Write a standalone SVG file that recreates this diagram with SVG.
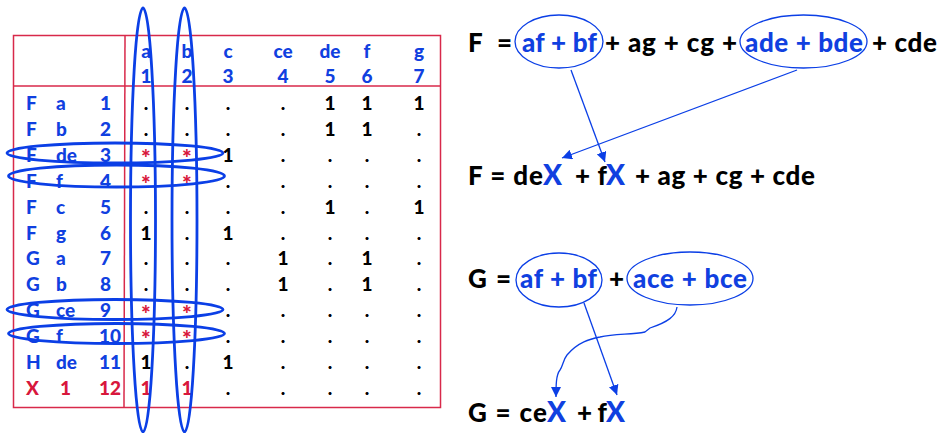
<svg xmlns="http://www.w3.org/2000/svg" width="943" height="433" viewBox="0 0 943 433">
<style>
text{font-family:Lato,"Open Sans","Liberation Sans",sans-serif;font-weight:900}
.t{font-size:19px}
.s{font-size:23px}
.b{fill:#1040e0}
.r{fill:#d8173c}
.k{fill:#000}
.c{text-anchor:middle}
.eq{font-size:26px}
.X{font-size:28px;fill:#1040e0}
.grid{fill:none;stroke:#d8294a;stroke-width:1.5}
.ring{fill:none;stroke:#0b3fe6;stroke-width:2.8}
.ov{fill:none;stroke:#0b3fe6;stroke-width:1.3}
.con{fill:none;stroke:#0b3fe6;stroke-width:1.3}
</style>
<defs>
<marker id="ah" viewBox="0 0 10 10" refX="10" refY="5" markerWidth="10" markerHeight="10" markerUnits="userSpaceOnUse" orient="auto">
<path d="M0,0 L10,5 L0,10 z" fill="#0b3fe6"/>
</marker>
</defs>
<g id="table">
<rect class="grid" x="13.5" y="35.5" width="427" height="372"/>
<line class="grid" x1="125" y1="35.5" x2="124" y2="407.5"/>
<line class="grid" x1="13.5" y1="86" x2="440.5" y2="86"/>
<g class="t b c">
<text x="146" y="58">a</text><text x="187" y="58">b</text><text x="228" y="58">c</text><text x="283" y="58">ce</text><text x="330" y="58">de</text><text x="367" y="58">f</text><text x="419" y="58">g</text>
<text x="146" y="83">1</text><text x="187" y="83">2</text><text x="228" y="83">3</text><text x="283" y="83">4</text><text x="330" y="83">5</text><text x="367" y="83">6</text><text x="419" y="83">7</text>
</g>
<g class="t b">
<text x="26" y="110">F</text><text x="56" y="110">a</text><text x="100" y="110">1</text>
<text x="26" y="135.9">F</text><text x="56" y="135.9">b</text><text x="100" y="135.9">2</text>
<text x="26" y="161.8">F</text><text x="56" y="161.8">de</text><text x="100" y="161.8">3</text>
<text x="26" y="187.7">F</text><text x="56" y="187.7">f</text><text x="100" y="187.7">4</text>
<text x="26" y="213.6">F</text><text x="56" y="213.6">c</text><text x="100" y="213.6">5</text>
<text x="26" y="239.5">F</text><text x="56" y="239.5">g</text><text x="100" y="239.5">6</text>
<text x="26" y="265.4">G</text><text x="56" y="265.4">a</text><text x="100" y="265.4">7</text>
<text x="26" y="291.3">G</text><text x="56" y="291.3">b</text><text x="100" y="291.3">8</text>
<text x="26" y="317.2">G</text><text x="56" y="317.2">ce</text><text x="100" y="317.2">9</text>
<text x="26" y="343.1">G</text><text x="56" y="343.1">f</text><text x="99" y="343.1">10</text>
<text x="26" y="369">H</text><text x="56" y="369">de</text><text x="99" y="369">11</text>
</g>
<g class="t r">
<text x="26" y="394.9">X</text><text x="60" y="394.9">1</text><text x="99" y="394.9">12</text>
</g>
<g class="t k c">
<text x="146" y="110">.</text><text x="187" y="110">.</text><text x="228" y="110">.</text><text x="283" y="110">.</text><text x="330" y="110">1</text><text x="367" y="110">1</text><text x="419" y="110">1</text>
<text x="146" y="135.9">.</text><text x="187" y="135.9">.</text><text x="228" y="135.9">.</text><text x="283" y="135.9">.</text><text x="330" y="135.9">1</text><text x="367" y="135.9">1</text><text x="419" y="135.9">.</text>
<text x="228" y="161.8">1</text><text x="283" y="161.8">.</text><text x="330" y="161.8">.</text><text x="367" y="161.8">.</text><text x="419" y="161.8">.</text>
<text x="228" y="187.7">.</text><text x="283" y="187.7">.</text><text x="330" y="187.7">.</text><text x="367" y="187.7">.</text><text x="419" y="187.7">.</text>
<text x="146" y="213.6">.</text><text x="187" y="213.6">.</text><text x="228" y="213.6">.</text><text x="283" y="213.6">.</text><text x="330" y="213.6">1</text><text x="367" y="213.6">.</text><text x="419" y="213.6">1</text>
<text x="146" y="239.5">1</text><text x="187" y="239.5">.</text><text x="228" y="239.5">1</text><text x="283" y="239.5">.</text><text x="330" y="239.5">.</text><text x="367" y="239.5">.</text><text x="419" y="239.5">.</text>
<text x="146" y="265.4">.</text><text x="187" y="265.4">.</text><text x="228" y="265.4">.</text><text x="283" y="265.4">1</text><text x="330" y="265.4">.</text><text x="367" y="265.4">1</text><text x="419" y="265.4">.</text>
<text x="146" y="291.3">.</text><text x="187" y="291.3">.</text><text x="228" y="291.3">.</text><text x="283" y="291.3">1</text><text x="330" y="291.3">.</text><text x="367" y="291.3">1</text><text x="419" y="291.3">.</text>
<text x="228" y="317.2">.</text><text x="283" y="317.2">.</text><text x="330" y="317.2">.</text><text x="367" y="317.2">.</text><text x="419" y="317.2">.</text>
<text x="228" y="343.1">.</text><text x="283" y="343.1">.</text><text x="330" y="343.1">.</text><text x="367" y="343.1">.</text><text x="419" y="343.1">.</text>
<text x="146" y="369">1</text><text x="187" y="369">.</text><text x="228" y="369">1</text><text x="283" y="369">.</text><text x="330" y="369">.</text><text x="367" y="369">.</text><text x="419" y="369">.</text>
<text x="228" y="394.9">.</text><text x="283" y="394.9">.</text><text x="330" y="394.9">.</text><text x="367" y="394.9">.</text><text x="419" y="394.9">.</text>
</g>
<g class="s r c">
<text x="146" y="166">*</text><text x="187" y="166">*</text>
<text x="146" y="191.5">*</text><text x="187" y="191.5">*</text>
<text x="146" y="321.5">*</text><text x="187" y="321.5">*</text>
<text x="146" y="347">*</text><text x="187" y="347">*</text>
</g>
<g class="t r c">
<text x="146" y="394.9">1</text><text x="187" y="394.9">1</text>
</g>
</g>
<g id="groupings">
<ellipse class="ring" cx="143" cy="220" rx="12.5" ry="212"/>
<ellipse class="ring" cx="184.5" cy="220" rx="12.5" ry="212"/>
<ellipse class="ring" cx="115" cy="153" rx="108" ry="10"/>
<ellipse class="ring" cx="116.5" cy="176" rx="108" ry="11"/>
<ellipse class="ring" cx="115" cy="309.5" rx="108" ry="10"/>
<ellipse class="ring" cx="116.5" cy="333.5" rx="108" ry="10"/>
</g>
<g id="eqF1">
<text class="eq k" x="468" y="52">F</text>
<text class="eq k" x="497" y="52">=</text>
<text class="eq b" x="522" y="52" textLength="75">af + bf</text>
<text class="eq k" x="605" y="52" textLength="132">+ ag + cg +</text>
<text class="eq b" x="745" y="52" textLength="118">ade + bde</text>
<text class="eq k" x="872" y="52" textLength="65">+ cde</text>
<ellipse class="ov" cx="559" cy="41.5" rx="44" ry="26.5"/>
<ellipse class="ov" cx="803.5" cy="41.5" rx="63.5" ry="26.5"/>
</g>
<g id="eqF2">
<text class="eq k" x="468" y="185" textLength="75">F = de</text>
<text class="X" x="543" y="185">X</text>
<text class="eq k" x="575" y="185" textLength="32">+ f</text>
<text class="X" x="606" y="185">X</text>
<text class="eq k" x="635" y="185" textLength="180">+ ag + cg + cde</text>
</g>
<g id="eqG1">
<text class="eq k" x="468" y="288" textLength="43">G =</text>
<text class="eq b" x="520" y="288" textLength="77">af + bf</text>
<text class="eq k" x="609" y="288">+</text>
<text class="eq b" x="633" y="288" textLength="114">ace + bce</text>
<ellipse class="ov" cx="559" cy="280" rx="43" ry="27"/>
<ellipse class="ov" cx="690" cy="278.5" rx="63" ry="26.5"/>
</g>
<g id="eqG2">
<text class="eq k" x="468" y="422" textLength="79">G = ce</text>
<text class="X" x="547" y="422">X</text>
<text class="eq k" x="577" y="422" textLength="30">+ f</text>
<text class="X" x="606" y="422">X</text>
</g>
<g id="connectors">
<line class="con" x1="571" y1="70" x2="605" y2="162" marker-end="url(#ah)"/>
<line class="con" x1="797" y1="70" x2="562" y2="158" marker-end="url(#ah)"/>
<line class="con" x1="584" y1="303" x2="617" y2="395" marker-end="url(#ah)"/>
<path class="con" d="M677,307 C676,316 668,322 650,328 L645,332 C630,335 615,333 600,337 C590,339 578,342 567,355 C563,360 563,366 560,370 C556,375 556,385 556,397" marker-end="url(#ah)"/>
</g>
</svg>
